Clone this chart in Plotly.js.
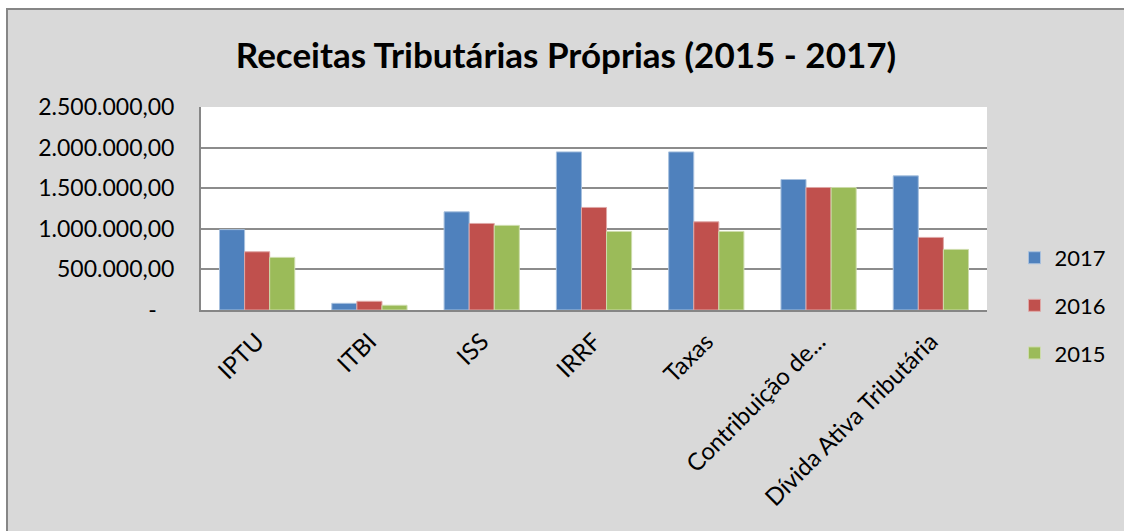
<!DOCTYPE html>
<html>
<head>
<meta charset="utf-8">
<script src="https://cdn.plot.ly/plotly-3.0.1.min.js"></script>
<style>
html, body { margin:0; padding:0; background:#ffffff; overflow:hidden; width:1124px; height:531px; }
#bg { position:absolute; left:6px; top:8px; width:1118px; height:523px; background:#d9d9d9; }
#chart { position:absolute; left:8px; top:10px; width:1116px; height:521px; }
#lineTop { position:absolute; left:6px; top:8px; width:1118px; height:2px; background:#868686; }
#lineLeft { position:absolute; left:6px; top:8px; width:2px; height:523px; background:#868686; }
</style>
</head>
<body>
<div id="bg"></div>
<div id="chart"></div>
<div id="lineTop"></div>
<div id="lineLeft"></div>
<script>
const categories = ["IPTU", "ITBI", "ISS", "IRRF", "Taxas", "Contribuição de...", "Dívida Ativa Tributária"];
const series2017 = [990000, 82000, 1209000, 1947000, 1947000, 1607000, 1652000];
const series2016 = [717000, 107000, 1066000, 1263000, 1086000, 1509000, 894000];
const series2015 = [648000, 58000, 1042000, 968000, 968000, 1509000, 746000];
const seriesNames = ["2017", "2016", "2015"];
const yTickVals = [0, 500000, 1000000, 1500000, 2000000, 2500000];
const yTickText = ["-\u00a0\u00a0\u00a0", "500.000,00", "1.000.000,00", "1.500.000,00", "2.000.000,00", "2.500.000,00"];
const chartTitle = "Receitas Tributárias Próprias (2015 - 2017)";

const colors = ["#4f81bd", "#c0504d", "#9bbb59"];
const lineColors = ["#a7c0de", "#dfa7a6", "#cddcab"];
const allSeries = [series2017, series2016, series2015];

const traces = allSeries.map((vals, i) => ({
  type: "bar",
  name: seriesNames[i],
  x: categories,
  y: vals,
  legendgroup: "g" + i,
  marker: { color: colors[i], line: { color: lineColors[i], width: 1 } },
  hoverinfo: "x+y+name"
}));

const FONT = "Lato, 'Open Sans', sans-serif";

const layout = {
  width: 1116,
  height: 521,
  paper_bgcolor: "#d9d9d9",
  plot_bgcolor: "#ffffff",
  margin: { l: 193, r: 135, t: 97, b: 221, pad: 0 },
  font: { family: FONT, color: "#000000", size: 22 },
  title: {
    text: "<b>" + chartTitle + "</b>",
    font: { family: FONT, size: 35, color: "#000000" },
    x: 0.5, xref: "container", xanchor: "center",
    y: 0.912, yref: "container", yanchor: "middle"
  },
  barmode: "group",
  bargap: 0.33,
  bargroupgap: 0,
  xaxis: {
    type: "category",
    tickangle: -45,
    tickfont: { family: FONT, size: 24, color: "#000000" },
    showline: true, linecolor: "#868686", linewidth: 2,
    ticks: "", showgrid: false, zeroline: false,
    ticklabelstandoff: 6,
    fixedrange: true
  },
  yaxis: {
    range: [0, 2500000],
    tickvals: yTickVals,
    ticktext: yTickText,
    tickfont: { family: FONT, size: 23, color: "#000000" },
    showgrid: true, gridcolor: "#8c8c8c", gridwidth: 2,
    showline: true, linecolor: "#868686", linewidth: 2,
    zeroline: false, ticks: "",
    ticklabelstandoff: 20,
    fixedrange: true
  },
  showlegend: true,
  legend: {
    x: 1.035, xanchor: "left",
    y: 0.36, yanchor: "top",
    traceorder: "grouped",
    tracegroupgap: 16,
    font: { family: FONT, size: 22, color: "#000000" },
    bgcolor: "rgba(0,0,0,0)"
  }
};

Plotly.newPlot("chart", traces, layout, { displayModeBar: false, staticPlot: true });
</script>
</body>
</html>
